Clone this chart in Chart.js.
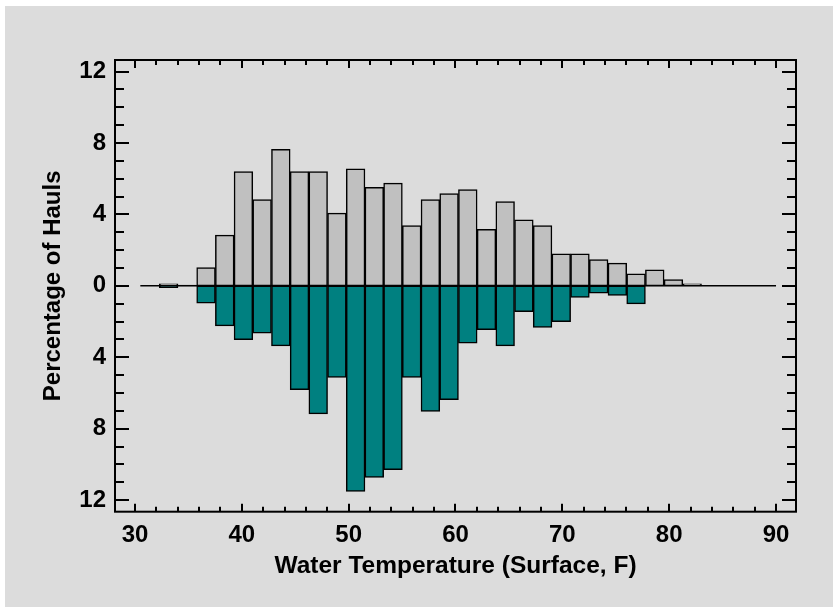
<!DOCTYPE html>
<html>
<head>
<meta charset="utf-8">
<script src="https://cdn.jsdelivr.net/npm/chart.js@4/dist/chart.umd.min.js"></script>
<style>
  body { margin: 0; background: #fff; }
  #wrap { position: absolute; left: 5px; top: 6px; width: 828px; height: 601px; background: #dcdcdc; }
</style>
</head>
<body>
<div id="wrap"><canvas id="chart" width="828" height="601"></canvas></div>
<script>
// bin centres (deg F), bins are about 1.75 F wide
const binCenters = [33.15, 34.90, 36.65, 38.40, 40.15, 41.90, 43.65, 45.40, 47.15, 48.90,
  50.65, 52.40, 54.15, 55.90, 57.65, 59.40, 61.15, 62.90, 64.65, 66.40,
  68.15, 69.90, 71.65, 73.40, 75.15, 76.90, 78.65, 80.40, 82.15];

// upper series (grey), percent of hauls
const upperPct = [0.12, 0.05, 1.03, 2.84, 6.40, 4.83, 7.65, 6.40, 6.40, 4.07,
  6.55, 5.52, 5.75, 3.38, 4.83, 5.17, 5.39, 3.17, 4.72, 3.70,
  3.38, 1.79, 1.79, 1.47, 1.27, 0.67, 0.90, 0.35, 0.12];

// lower series (teal), drawn below zero
const lowerPct = [-0.10, 0, -0.97, -2.24, -3.02, -2.65, -3.36, -5.82, -7.17, -5.13,
  -11.52, -10.73, -10.30, -5.13, -7.04, -6.38, -3.21, -2.46, -3.36, -1.44,
  -2.33, -2.00, -0.65, -0.41, -0.54, -1.01, 0, 0, 0];

const baselineX = [30.5, 90];
const xTicks = [30, 40, 50, 60, 70, 80, 90];
const yTicks = [-12, -8, -4, 0, 4, 8, 12];

const FONT = "'Liberation Sans', Arial, sans-serif";

// frame with inward tick marks on all four sides
const frameTicks = {
  id: 'frameTicks',
  afterDraw(chart) {
    const { ctx, chartArea: a, scales: { x, y } } = chart;
    ctx.save();
    ctx.strokeStyle = '#000';
    ctx.lineWidth = 2;
    ctx.beginPath();
    for (let v = -12; v <= 12; v++) {
      const py = Math.round(y.getPixelForValue(v));
      const len = v % 4 === 0 ? 14 : 9;
      ctx.moveTo(a.left, py); ctx.lineTo(a.left + len, py);
      ctx.moveTo(a.right, py); ctx.lineTo(a.right - len, py);
    }
    for (let v = 30; v <= 90; v += 2) {
      const px = Math.round(x.getPixelForValue(v));
      const len = v % 10 === 0 ? 8 : 5;
      ctx.moveTo(px, a.top); ctx.lineTo(px, a.top + len);
      ctx.moveTo(px, a.bottom); ctx.lineTo(px, a.bottom - len);
    }
    ctx.stroke();
    ctx.strokeRect(a.left, a.top, a.width, a.height);
    ctx.restore();
  }
};

new Chart(document.getElementById('chart'), {
  type: 'bar',
  data: {
    datasets: [
      {
        type: 'line',
        data: baselineX.map((v) => ({ x: v, y: 0 })),
        borderColor: '#000',
        borderWidth: 1.5,
        pointRadius: 0,
        order: 0,
      },
      {
        data: binCenters.map((v, i) => ({ x: v, y: upperPct[i] })),
        backgroundColor: '#c0c0c0',
        borderColor: '#000',
        borderWidth: 1.5,
        borderSkipped: false,
        order: 1,
      },
      {
        data: binCenters.map((v, i) => ({ x: v, y: lowerPct[i] })),
        backgroundColor: '#008080',
        borderColor: '#000',
        borderWidth: 1.5,
        borderSkipped: false,
        order: 1,
      },
    ],
  },
  options: {
    responsive: false,
    animation: false,
    layout: { padding: { left: 0, top: 54, right: 37, bottom: 0 } },
    datasets: { bar: { barPercentage: 1, categoryPercentage: 1 } },
    plugins: { legend: { display: false }, tooltip: { enabled: false } },
    scales: {
      x: {
        type: 'linear',
        stacked: true,
        offset: false,
        min: 28.13,
        max: 91.87,
        afterBuildTicks: (s) => { s.ticks = xTicks.map((v) => ({ value: v })); },
        afterFit: (s) => { s.height = 95.3; },
        grid: { display: false, drawTicks: false, offset: false },
        border: { display: false },
        ticks: { padding: 9, color: '#000', font: { family: FONT, size: 24, weight: 'bold' } },
        title: {
          display: true,
          text: 'Water Temperature (Surface, F)',
          color: '#000',
          font: { family: FONT, size: 24.5, weight: 'bold' },
          padding: { top: 0, bottom: 26 },
        },
      },
      y: {
        stacked: true,
        min: -12.65,
        max: 12.65,
        afterBuildTicks: (s) => { s.ticks = yTicks.map((v) => ({ value: v })); },
        afterFit: (s) => { s.width = 110; },
        grid: { display: false, drawTicks: false },
        border: { display: false },
        ticks: {
          padding: 9,
          color: '#000',
          font: { family: FONT, size: 24, weight: 'bold' },
          callback: (v) => Math.abs(v),
        },
        title: {
          display: true,
          text: 'Percentage of Hauls',
          color: '#000',
          font: { family: FONT, size: 24, weight: 'bold' },
          padding: { top: 34, bottom: 0 },
        },
      },
    },
  },
  plugins: [frameTicks],
});
</script>
</body>
</html>
